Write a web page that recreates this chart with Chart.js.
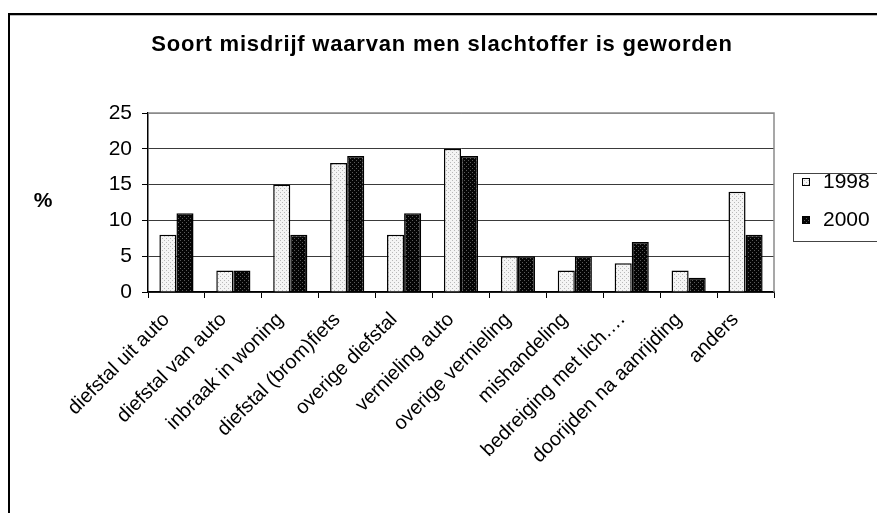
<!DOCTYPE html>
<html>
<head>
<meta charset="utf-8">
<script src="https://cdn.jsdelivr.net/npm/chart.js@4.4.1/dist/chart.umd.min.js"></script>
<style>
  html, body { margin: 0; padding: 0; background: #fff; }
  #c { display: block; }
</style>
</head>
<body>
<canvas id="c" width="877" height="513"></canvas>
<script>
// data
const categories = [
    "diefstal uit auto", "diefstal van auto", "inbraak in woning", "diefstal (brom)fiets",
    "overige diefstal", "vernieling auto", "overige vernieling", "mishandeling",
    "bedreiging met lich….", "doorijden na aanrijding", "anders"
];
const seriesNames = ["1998", "2000"];
const values1998 = [8, 3, 15, 18, 8, 20, 5, 3, 4, 3, 14];
const values2000 = [11, 3, 8, 19, 11, 19, 5, 5, 7, 2, 8];
const yTicks = [0, 5, 10, 15, 20, 25];

const titleText = "Soort misdrijf waarvan men slachtoffer is geworden";
const FONT = '"Liberation Sans", Arial, sans-serif';

// stippled fills like the old office chart
function makePattern(bg, dot) {
    const p = document.createElement("canvas");
    p.width = 4; p.height = 4;
    const g = p.getContext("2d");
    g.fillStyle = bg;
    g.fillRect(0, 0, 4, 4);
    g.fillStyle = dot;
    g.fillRect(0, 0, 1, 1);
    g.fillRect(2, 2, 1, 1);
    return g.createPattern(p, "repeat");
}
const ctx = document.getElementById("c").getContext("2d");
const lightFill = makePattern("#f4f4f4", "#b8b8b8");
const darkFill = makePattern("#050505", "#5a5a5a");
const fills = [lightFill, darkFill];

// frame, title, % label and legend box
const extras = {
    id: "extras",
    beforeDraw(chart) {
        const c = chart.ctx;
        c.save();
        c.fillStyle = "#000";
        c.fillRect(8, 13, 2, 500);
        c.fillRect(8, 13, 869, 2);
        c.fillStyle = "#bbb";
        c.fillRect(10, 15, 867, 1);
        c.restore();
    },
    afterDraw(chart) {
        const c = chart.ctx;
        const a = chart.chartArea;
        c.save();
        // plot area border top/right in grey
        c.strokeStyle = "#8a8a8a";
        c.lineWidth = 1.5;
        c.beginPath();
        c.moveTo(a.left, a.top);
        c.lineTo(a.right, a.top);
        c.lineTo(a.right, a.bottom);
        c.stroke();

        // title
        c.fillStyle = "#000";
        c.font = "bold 22px " + FONT;
        c.textAlign = "center";
        c.textBaseline = "middle";
        if ("letterSpacing" in c) c.letterSpacing = "0.8px";
        c.fillText(titleText, 442, 45);
        if ("letterSpacing" in c) c.letterSpacing = "0px";

        // axis unit
        c.font = "bold 21px " + FONT;
        c.fillText("%", 43, 201);

        // legend
        c.strokeStyle = "#444";
        c.lineWidth = 1;
        c.strokeRect(793.5, 173.5, 100, 68);
        c.textAlign = "left";
        c.font = "21px " + FONT;
        const rows = [182, 220];
        chart.data.datasets.forEach((ds, i) => {
            const y = rows[i];
            c.fillStyle = ds.backgroundColor;
            c.fillRect(802, y - 4, 8, 8);
            c.strokeStyle = "#000";
            c.strokeRect(802.5, y - 3.5, 7, 7);
            c.fillStyle = "#000";
            c.fillText(ds.label, 823, y);
        });
        c.restore();
    }
};

new Chart(ctx, {
    type: "bar",
    data: {
        labels: categories,
        datasets: [
            { label: seriesNames[0], data: values1998, backgroundColor: fills[0] },
            { label: seriesNames[1], data: values2000, backgroundColor: fills[1] }
        ]
    },
    options: {
        responsive: false,
        animation: false,
        devicePixelRatio: 1,
        layout: { padding: { top: 113, right: 103, left: 88, bottom: 11 } },
        datasets: {
            bar: {
                borderColor: "#000",
                borderWidth: 1.5,
                categoryPercentage: 0.6,
                barPercentage: 1.0
            }
        },
        plugins: {
            legend: { display: false },
            title: { display: false },
            tooltip: { enabled: false }
        },
        scales: {
            x: {
                afterFit: (s) => { s.height = 210; },
                grid: {
                    offset: true,
                    drawOnChartArea: false,
                    drawTicks: true,
                    tickLength: 6,
                    tickColor: "#000",
                    tickWidth: 1
                },
                border: { color: "#000", width: 1.5 },
                ticks: {
                    autoSkip: false,
                    minRotation: 45,
                    maxRotation: 45,
                    padding: 10,
                    labelOffset: -10,
                    color: "#000",
                    font: { family: FONT, size: 20 }
                }
            },
            y: {
                min: yTicks[0],
                max: yTicks[yTicks.length - 1],
                afterFit: (s) => { s.width = 60; },
                afterBuildTicks: (s) => { s.ticks = yTicks.map(v => ({ value: v })); },
                grid: {
                    color: (ctx) => ctx.tick && ctx.tick.value === 25 ? "#8a8a8a" : "#3a3a3a",
                    lineWidth: 1,
                    tickLength: 6,
                    tickColor: "#000"
                },
                border: { color: "#000", width: 1.5 },
                ticks: {
                    padding: 10,
                    color: "#000",
                    font: { family: FONT, size: 21 }
                }
            }
        }
    },
    plugins: [extras]
});
</script>
</body>
</html>
